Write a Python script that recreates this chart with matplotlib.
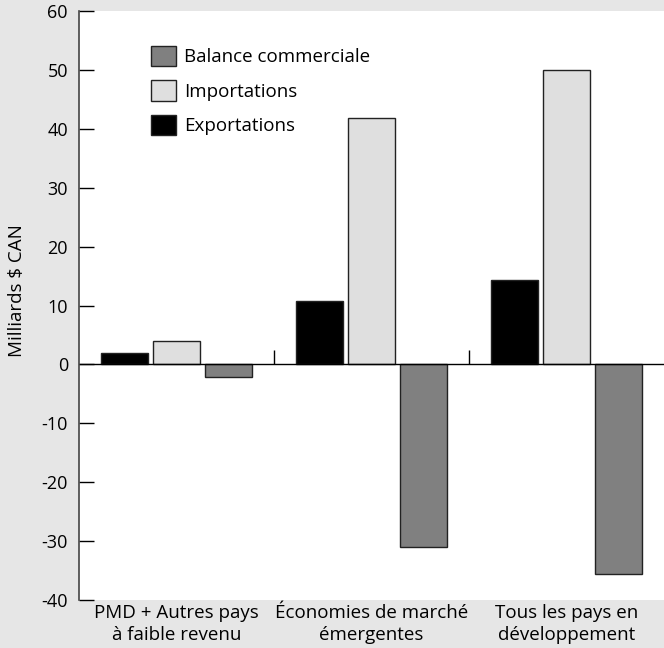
import numpy as np
import matplotlib.pyplot as plt

plt.rcParams["font.family"] = ["Open Sans", "DejaVu Sans"]
plt.rcParams["font.size"] = 13

categories = ["PMD + Autres pays\nà faible revenu",
              "Économies de marché\némergentes",
              "Tous les pays en\ndéveloppement"]
exportations = [1.9, 10.8, 14.4]
importations = [4.0, 41.8, 50.0]
balance = [-2.2, -31.0, -35.5]
yticks = [-40, -30, -20, -10, 0, 10, 20, 30, 40, 50, 60]

fig = plt.figure(figsize=(6.64, 6.48), dpi=100, facecolor="#e6e6e6")
ax = fig.add_axes([0.119, 0.074, 0.881, 0.909])
ax.set_facecolor("white")

x = np.arange(len(categories))
w = 0.24
step = 0.266
b_bal = ax.bar(x + step, balance, w, color="#808080", edgecolor="#222222", linewidth=1, label="Balance commerciale")
b_imp = ax.bar(x, importations, w, color="#dfdfdf", edgecolor="#222222", linewidth=1, label="Importations")
b_exp = ax.bar(x - step, exportations, w, color="#000000", edgecolor="#222222", linewidth=1, label="Exportations")

ax.axhline(0, color="black", linewidth=1, zorder=1)
ax.vlines([0.5, 1.5], 0, 2.5, color="black", linewidth=1)

ax.set_xlim(-0.5, 2.5)
ax.set_ylim(-40, 60)
ax.set_yticks(yticks)
ax.set_yticklabels([str(t) for t in yticks])
ax.set_xticks(x)
ax.set_xticklabels(categories, fontsize=13.5, linespacing=1.25)
ax.tick_params(axis="x", length=0, pad=3)
ax.tick_params(axis="y", direction="in", length=11, width=1, pad=8, labelsize=13)
for s in ["top", "right", "bottom"]:
    ax.spines[s].set_visible(False)
ax.spines["left"].set_color("#444444")
ax.spines["left"].set_linewidth(1.2)

ax.set_ylabel("Milliards $ CAN", fontsize=13.5)
ax.yaxis.set_label_coords(-0.09, 0.525)

leg = ax.legend(handles=[b_bal, b_imp, b_exp], loc="upper left",
                bbox_to_anchor=(0.095, 0.97), frameon=False, fontsize=13.5,
                handlelength=1.3, handleheight=1.3, handletextpad=0.45,
                labelspacing=0.75)

plt.savefig("out.png", dpi=100, facecolor=fig.get_facecolor())
